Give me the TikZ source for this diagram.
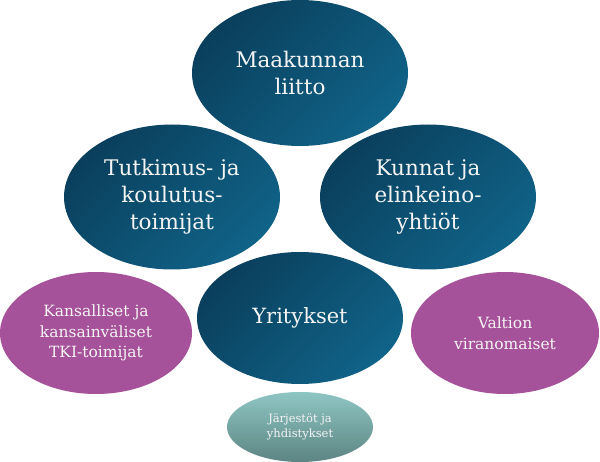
\documentclass[tikz,border=0pt]{standalone}
\usepackage{fontspec}
\setmainfont{DejaVu Serif}
\usetikzlibrary{shapes.geometric}
\definecolor{bluedark}{HTML}{0A3F5C}
\definecolor{bluelight}{HTML}{106388}
\definecolor{purp}{HTML}{A6529A}
\definecolor{tealtop}{HTML}{8EC6C3}
\definecolor{tealbot}{HTML}{5C8482}
\definecolor{txt}{HTML}{F4F4F4}
\tikzset{
  blob/.style={ellipse, inner sep=0pt, align=center, text=txt},
  bluebl/.style={blob, top color=bluedark, bottom color=bluelight, shading angle=45},
  purpbl/.style={blob, fill=purp},
  tealbl/.style={blob, top color=tealtop, bottom color=tealbot},
  bigtext/.style={font=\fontsize{21.5}{27}\selectfont},
  midtext/.style={font=\fontsize{15.5}{20.5}\selectfont},
  smalltext/.style={font=\fontsize{11.5}{15}\selectfont},
}
\begin{document}
\begin{tikzpicture}[x=1pt,y=-1pt]
\useasboundingbox (0,0) rectangle (600,462);
\node[bluebl, bigtext, minimum width=216pt, minimum height=146pt] (maak) at (300,73) {Maakunnan\\liitto};
\node[bluebl, bigtext, minimum width=216pt, minimum height=145pt] (tutk) at (172,197) {Tutkimus- ja\\koulutus-\\toimijat};
\node[bluebl, bigtext, minimum width=216pt, minimum height=145pt] (kunn) at (428,197) {Kunnat ja\\elinkeino-\\yhtiöt};
\node[bluebl, font=\fontsize{21}{26}\selectfont, minimum width=206pt, minimum height=132pt] (yrit) at (300,318) {Yritykset};
\node[purpbl, midtext, minimum width=192pt, minimum height=122pt] (kans) at (96,333) {Kansalliset ja\\kansainväliset\\TKI-toimijat};
\node[purpbl, midtext, minimum width=188pt, minimum height=122pt] (valt) at (505,333) {Valtion\\viranomaiset};
\node[tealbl, smalltext, minimum width=146pt, minimum height=70pt] (jarj) at (300,427) {Järjestöt ja\\yhdistykset};
\end{tikzpicture}
\end{document}
